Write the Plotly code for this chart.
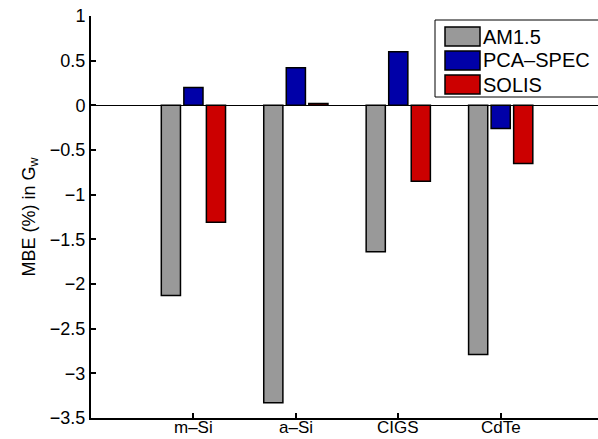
import plotly.graph_objects as go

categories = ["m\u2013Si", "a\u2013Si", "CIGS", "CdTe"]
am15 = [-2.13, -3.33, -1.64, -2.79]
pca_spec = [0.20, 0.42, 0.60, -0.26]
solis = [-1.31, 0.02, -0.85, -0.65]
y_ticks = [1, 0.5, 0, -0.5, -1, -1.5, -2, -2.5, -3, -3.5]
series_names = ["AM1.5", "PCA\u2013SPEC", "SOLIS"]
series_values = [am15, pca_spec, solis]
series_colors = ["#999999", "#0000a8", "#cc0000"]

W, H = 598, 439
ML, MR, MT, MB = 91, 0, 16, 21
PW, PH = W - ML - MR, H - MT - MB

def px_x(x):
    return (x - ML) / PW

def px_y(y):
    return (H - MB - y) / PH

fig = go.Figure()
for name, vals, col in zip(series_names, series_values, series_colors):
    fig.add_trace(go.Bar(x=categories, y=vals, name=name, showlegend=False,
                         marker=dict(color=col, line=dict(color="black", width=1.5))))

# custom legend box (matching the reference's large swatches)
shapes = [dict(type="rect", xref="paper", yref="paper",
               x0=px_x(435), x1=px_x(602), y0=px_y(97), y1=px_y(20),
               line=dict(color="black", width=1), fillcolor="white", layer="above")]
annotations = []
for i, (name, col) in enumerate(zip(series_names, series_colors)):
    top = 27 + i * 24
    shapes.append(dict(type="rect", xref="paper", yref="paper",
                       x0=px_x(445), x1=px_x(480), y0=px_y(top + 19), y1=px_y(top),
                       line=dict(color="black", width=1.5), fillcolor=col, layer="above"))
    annotations.append(dict(xref="paper", yref="paper", x=px_x(481), y=px_y(top + 9.5),
                            xanchor="left", yanchor="middle", showarrow=False,
                            text=name, font=dict(size=20, color="black")))

# x tick labels placed tight under the axis, as in the reference
for cat in categories:
    annotations.append(dict(xref="x", yref="paper", x=cat, y=px_y(438),
                            xanchor="center", yanchor="bottom", showarrow=False,
                            borderpad=0, text=cat, font=dict(size=17, color="black")))

font = "Liberation Sans, Arial, sans-serif"
fig.update_layout(
    width=W, height=H,
    margin=dict(l=ML, r=MR, t=MT, b=MB),
    paper_bgcolor="white", plot_bgcolor="white",
    barmode="group", bargap=0.34, bargroupgap=0.15,
    font=dict(family=font, size=18, color="black"),
    showlegend=False,
    shapes=shapes, annotations=annotations,
    xaxis=dict(range=[-1, 3.95], showline=True, linecolor="black", linewidth=2,
               ticks="inside", ticklen=5, tickwidth=1.5, tickcolor="black",
               showticklabels=False,
               showgrid=False, zeroline=False, automargin=False),
    yaxis=dict(range=[-3.5, 1], tickvals=y_ticks,
               ticktext=[f"{v:g}".replace("-", "\u2212") for v in y_ticks],
               showline=True, linecolor="black", linewidth=2,
               ticks="inside", ticklen=5, tickwidth=1.5, tickcolor="black",
               showgrid=False, zeroline=True, zerolinecolor="black", zerolinewidth=1,
               title=dict(text="MBE (%) in G<sub>w</sub>", font=dict(size=18), standoff=10),
               tickfont=dict(size=18), automargin=False),
)
fig.write_html("out.html")
